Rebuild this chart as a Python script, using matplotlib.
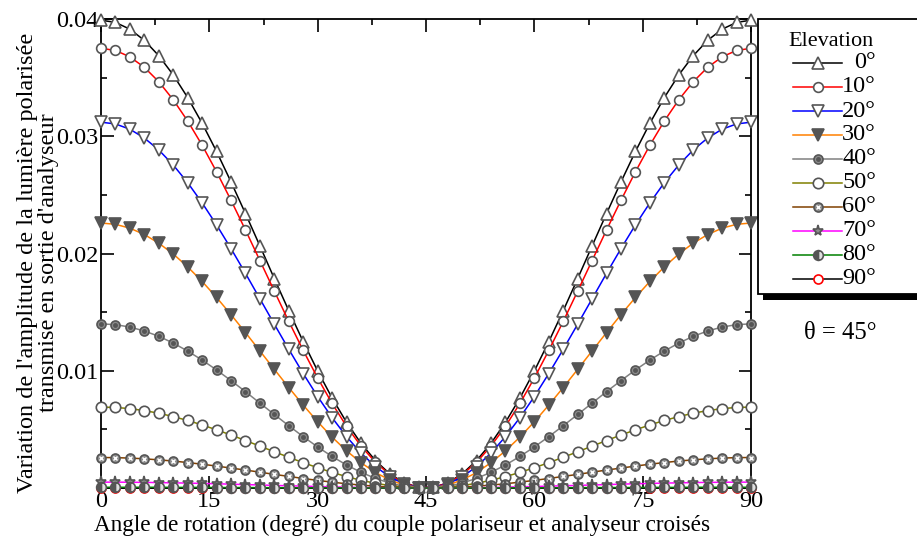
import matplotlib
matplotlib.use("Agg")
import matplotlib.pyplot as plt
from matplotlib.lines import Line2D
from matplotlib.patches import Rectangle

plt.rcParams["font.family"] = ["Liberation Serif", "DejaVu Serif"]

# angle de rotation (deg), one point every 2 degrees
angles = list(range(0, 92, 2))

elevations = ["0°", "10°", "20°", "30°", "40°", "50°", "60°", "70°", "80°", "90°"]

elev_0 = [0.03990, 0.03971, 0.03913, 0.03818, 0.03687, 0.03523, 0.03330, 0.03111, 0.02870, 0.02611,
          0.02341, 0.02065, 0.01786, 0.01512, 0.01248, 0.00998, 0.00767, 0.00560, 0.00381, 0.00234,
          0.00120, 0.00044, 0.00005,
          0.00005, 0.00044, 0.00120, 0.00234, 0.00381, 0.00560, 0.00767, 0.00998, 0.01248, 0.01512,
          0.01786, 0.02065, 0.02341, 0.02611, 0.02870, 0.03111, 0.03330, 0.03523, 0.03687, 0.03818,
          0.03913, 0.03971, 0.03990]
elev_10 = [0.03750, 0.03732, 0.03677, 0.03588, 0.03465, 0.03311, 0.03130, 0.02924, 0.02697, 0.02454,
           0.02201, 0.01940, 0.01679, 0.01421, 0.01173, 0.00938, 0.00721, 0.00526, 0.00358, 0.00219,
           0.00113, 0.00041, 0.00005,
           0.00005, 0.00041, 0.00113, 0.00219, 0.00358, 0.00526, 0.00721, 0.00938, 0.01173, 0.01421,
           0.01679, 0.01940, 0.02201, 0.02454, 0.02697, 0.02924, 0.03130, 0.03311, 0.03465, 0.03588,
           0.03677, 0.03732, 0.03750]
elev_20 = [0.03120, 0.03105, 0.03060, 0.02985, 0.02883, 0.02755, 0.02604, 0.02432, 0.02244, 0.02042,
           0.01831, 0.01614, 0.01397, 0.01183, 0.00976, 0.00780, 0.00600, 0.00438, 0.00298, 0.00183,
           0.00094, 0.00034, 0.00004,
           0.00004, 0.00034, 0.00094, 0.00183, 0.00298, 0.00438, 0.00600, 0.00780, 0.00976, 0.01183,
           0.01397, 0.01614, 0.01831, 0.02042, 0.02244, 0.02432, 0.02604, 0.02755, 0.02883, 0.02985,
           0.03060, 0.03105, 0.03120]
elev_30 = [0.02260, 0.02249, 0.02216, 0.02162, 0.02088, 0.01996, 0.01886, 0.01762, 0.01625, 0.01479,
           0.01326, 0.01169, 0.01012, 0.00857, 0.00707, 0.00565, 0.00434, 0.00317, 0.00216, 0.00132,
           0.00068, 0.00025, 0.00003,
           0.00003, 0.00025, 0.00068, 0.00132, 0.00216, 0.00317, 0.00434, 0.00565, 0.00707, 0.00857,
           0.01012, 0.01169, 0.01326, 0.01479, 0.01625, 0.01762, 0.01886, 0.01996, 0.02088, 0.02162,
           0.02216, 0.02249, 0.02260]
elev_40 = [0.01400, 0.01393, 0.01373, 0.01339, 0.01294, 0.01236, 0.01168, 0.01091, 0.01007, 0.00916,
           0.00822, 0.00724, 0.00627, 0.00531, 0.00438, 0.00350, 0.00269, 0.00196, 0.00134, 0.00082,
           0.00042, 0.00015, 0.00002,
           0.00002, 0.00015, 0.00042, 0.00082, 0.00134, 0.00196, 0.00269, 0.00350, 0.00438, 0.00531,
           0.00627, 0.00724, 0.00822, 0.00916, 0.01007, 0.01091, 0.01168, 0.01236, 0.01294, 0.01339,
           0.01373, 0.01393, 0.01400]
elev_50 = [0.00690, 0.00687, 0.00677, 0.00660, 0.00638, 0.00609, 0.00576, 0.00538, 0.00496, 0.00452,
           0.00405, 0.00357, 0.00309, 0.00262, 0.00216, 0.00173, 0.00133, 0.00097, 0.00066, 0.00040,
           0.00021, 0.00008, 0.00001,
           0.00001, 0.00008, 0.00021, 0.00040, 0.00066, 0.00097, 0.00133, 0.00173, 0.00216, 0.00262,
           0.00309, 0.00357, 0.00405, 0.00452, 0.00496, 0.00538, 0.00576, 0.00609, 0.00638, 0.00660,
           0.00677, 0.00687, 0.00690]
elev_60 = [0.00260, 0.00259, 0.00255, 0.00249, 0.00240, 0.00230, 0.00217, 0.00203, 0.00187, 0.00170,
           0.00153, 0.00135, 0.00116, 0.00099, 0.00081, 0.00065, 0.00050, 0.00036, 0.00025, 0.00015,
           0.00008, 0.00003, 0.00000,
           0.00000, 0.00003, 0.00008, 0.00015, 0.00025, 0.00036, 0.00050, 0.00065, 0.00081, 0.00099,
           0.00116, 0.00135, 0.00153, 0.00170, 0.00187, 0.00203, 0.00217, 0.00230, 0.00240, 0.00249,
           0.00255, 0.00259, 0.00260]
elev_70 = [0.00050, 0.00050, 0.00049, 0.00048, 0.00046, 0.00044, 0.00042, 0.00039, 0.00036, 0.00033,
           0.00029, 0.00026, 0.00022, 0.00019, 0.00016, 0.00013, 0.00010, 0.00007, 0.00005, 0.00003,
           0.00002, 0.00001, 0.00000,
           0.00000, 0.00001, 0.00002, 0.00003, 0.00005, 0.00007, 0.00010, 0.00013, 0.00016, 0.00019,
           0.00022, 0.00026, 0.00029, 0.00033, 0.00036, 0.00039, 0.00042, 0.00044, 0.00046, 0.00048,
           0.00049, 0.00050, 0.00050]
elev_80 = [0.00006, 0.00006, 0.00006, 0.00006, 0.00006, 0.00005, 0.00005, 0.00005, 0.00004, 0.00004,
           0.00004, 0.00003, 0.00003, 0.00002, 0.00002, 0.00002, 0.00001, 0.00001, 0.00001, 0.00000,
           0.00000, 0.00000, 0.00000,
           0.00000, 0.00000, 0.00000, 0.00000, 0.00001, 0.00001, 0.00001, 0.00002, 0.00002, 0.00002,
           0.00003, 0.00003, 0.00004, 0.00004, 0.00004, 0.00005, 0.00005, 0.00005, 0.00006, 0.00006,
           0.00006, 0.00006, 0.00006]
elev_90 = [0.0] * 46

series = [elev_0, elev_10, elev_20, elev_30, elev_40, elev_50, elev_60, elev_70, elev_80, elev_90]

edge = "#555555"
styles = [
    dict(color="black", marker="^", mfc="white", mec=edge, ms=8),
    dict(color="red", marker="o", mfc="white", mec=edge, ms=7),
    dict(color="blue", marker="v", mfc="white", mec=edge, ms=8),
    dict(color="#ff8000", marker="v", mfc=edge, mec=edge, ms=8),
    dict(color="#808080", marker="o", mfc="#8c8c8c", mec=edge, ms=6.5),
    dict(color="#808000", marker="o", mfc="white", mec=edge, ms=7.5),
    dict(color="#804000", marker="o", mfc="#8c8c8c", mec=edge, ms=6.5),
    dict(color="magenta", marker="*", mfc="#8c8c8c", mec=edge, ms=8),
    dict(color="green", marker="o", mfc=edge, mec=edge, ms=7, fillstyle="left",
         markerfacecoloralt="#e0e0e0"),
    dict(color="black", marker="o", mfc="white", mec="red", ms=6.5),
]
# little inner symbols for the 40 and 60 degree markers
inner = {4: dict(marker="o", ms=2.5, color=edge), 6: dict(marker="x", ms=3.5, color="white", mew=1)}

fig = plt.figure(figsize=(9.17, 5.37), dpi=100)
ax = fig.add_axes([101 / 917, 1 - 488 / 537, 650 / 917, 469 / 537])

order = [9, 0, 1, 2, 3, 4, 5, 6, 7, 8]
for k, i in enumerate(order):
    ax.plot(angles, series[i], lw=1.1, mew=1.2, zorder=3 + k, clip_on=False, **styles[i])
    if i in inner:
        ax.plot(angles, series[i], ls="none", zorder=3 + k, clip_on=False, **inner[i])

ax.set_xlim(0, 90)
ax.set_ylim(0, 0.04)
ax.set_xticks([0, 15, 30, 45, 60, 75, 90])
ax.set_yticks([0.01, 0.02, 0.03, 0.04])
ax.set_yticks([0.005, 0.015, 0.025, 0.035], minor=True)
ax.set_yticklabels(["0.01", "0.02", "0.03", "0.04"])
ax.tick_params(which="both", direction="in", top=True, right=True, labelsize=17.5, pad=2,
               width=1.2, color="black")
ax.tick_params(which="major", length=9)
ax.tick_params(which="minor", length=4.5)
for s in ax.spines.values():
    s.set_linewidth(1.3)

# minor ticks only on the top edge
top = ax.secondary_xaxis("top")
top.set_xticks([7.5, 22.5, 37.5, 52.5, 67.5, 82.5])
top.set_xticklabels([])
top.tick_params(direction="in", length=4.5, width=1.2)
top.spines["top"].set_visible(False)

ax.set_xlabel("Angle de rotation (degré) du couple polariseur et analyseur croisés",
              fontsize=16.7, va="top")
ax.xaxis.set_label_coords(0.463, -0.057)
ax.set_ylabel("Variation de l'amplitude de la lumière polarisée\ntransmise en sortie d'analyseur",
              fontsize=17.5, linespacing=1.0, va="center")
ax.yaxis.set_label_coords(-0.097, 0.48)

# legend box drawn by hand (right aligned labels, heavy shadow)
tf = fig.transFigure
W, H = 917, 537
fig.add_artist(Rectangle((763 / W, 1 - 300 / H), 200 / W, 276 / H, transform=tf,
                         facecolor="black", edgecolor="none", zorder=20))
fig.add_artist(Rectangle((758 / W, 1 - 294 / H), 200 / W, 275 / H, transform=tf,
                         facecolor="white", edgecolor="black", lw=1.3, zorder=21))
fig.text(831 / W, 1 - 42 / H, "Elevation", transform=tf, ha="center", va="center",
         fontsize=16, zorder=22)
for i, lab in enumerate(elevations):
    y = 1 - (63 + 24 * i) / H
    fig.add_artist(Line2D([793 / W, 842 / W], [y, y], transform=tf, lw=1.1, zorder=22,
                          color=styles[i]["color"]))
    kw = dict(styles[i])
    kw.pop("color")
    fig.add_artist(Line2D([817.5 / W], [y], transform=tf, ls="none", mew=1.2, zorder=23, **kw))
    if i in inner:
        fig.add_artist(Line2D([817.5 / W], [y], transform=tf, ls="none", zorder=24, **inner[i]))
    fig.text(876 / W, y, lab, transform=tf, ha="right", va="center", fontsize=17.5, zorder=22)

fig.text(840 / W, 1 - 333 / H, "θ = 45°", ha="center", va="center", fontsize=17.7)

fig.savefig("out.png", dpi=100)
